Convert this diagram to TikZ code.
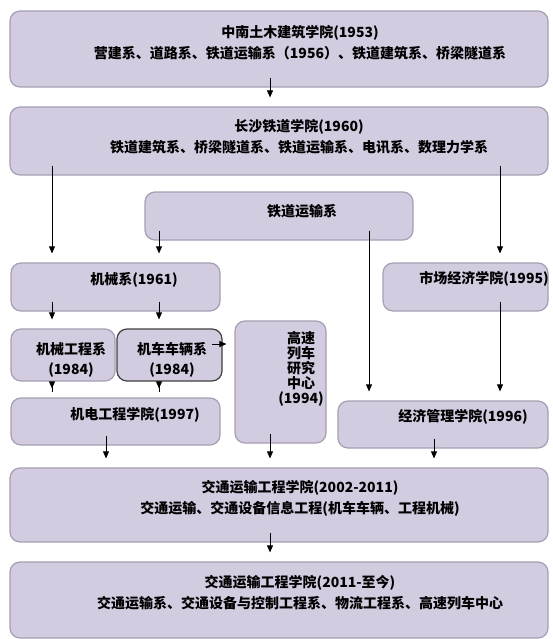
\documentclass[tikz,border=0pt]{standalone}
\usepackage{fontspec}
\setmainfont{Noto Sans CJK SC}
\usepackage{xcolor}
\usepackage{tikz}
\usetikzlibrary{arrows.meta}

\definecolor{boxfill}{RGB}{211,203,224}
\definecolor{boxline}{RGB}{165,159,178}

\tikzset{
  box/.style={draw=boxline, fill=boxfill, line width=1.2pt, rounded corners=10pt, inner sep=0pt},
  lbl/.style={font=\fontsize{14}{21}\selectfont\bfseries, align=center, inner sep=0pt},
  arr/.style={-{Triangle[length=7pt,width=6pt]}, line width=0.7pt, shorten <=-10pt, shorten >=9pt}
}

\begin{document}
\begin{tikzpicture}[x=1pt, y=1pt]
            \useasboundingbox (0,0) rectangle (553,-639);

            \node[box, minimum width=538, minimum height=76] (zn) at (279, -49) {};
            \node[box, minimum width=538, minimum height=68] (cs) at (279, -141) {};
            \node[box, minimum width=268, minimum height=48] (ty) at (279, -216) {};
            \node[box, minimum width=209, minimum height=48] (jx) at (115.5, -287) {};
            \node[box, minimum width=165, minimum height=48] (sc) at (465.5, -287) {};
            \node[box, minimum width=104, minimum height=52] (jg) at (63, -355) {};
            \node[box, draw=black!75, minimum width=105, minimum height=52] (jc) at (169.5, -355) {};
            \node[box, minimum width=91, minimum height=122] (gs) at (280.5, -382) {};
            \node[box, minimum width=209, minimum height=47] (jd) at (115.5, -421.5) {};
            \node[box, minimum width=210, minimum height=47] (jj) at (443, -424.5) {};
            \node[box, minimum width=538, minimum height=74] (jt) at (279, -505) {};
            \node[box, minimum width=538, minimum height=76] (jn) at (279, -600) {};

            \node[lbl] (zn-t) at (300, -42.5) {中南土木建筑学院(1953)\\营建系、道路系、铁道运输系（1956）、铁道建筑系、桥梁隧道系};
            \node[lbl] (cs-t) at (299, -136.5) {长沙铁道学院(1960)\\铁道建筑系、桥梁隧道系、铁道运输系、电讯系、数理力学系};
            \node[lbl] (ty-t) at (302, -211) {铁道运输系};
            \node[lbl] (jx-t) at (134, -280) {机械系(1961)};
            \node[lbl] (sc-t) at (484, -279) {市场经济学院(1995)};
            \node[lbl, font=\fontsize{14}{20}\selectfont\bfseries] (jg-t) at (71, -360) {机械工程系\\(1984)};
            \node[lbl, font=\fontsize{14}{20}\selectfont\bfseries] (jc-t) at (172, -360) {机车车辆系\\(1984)};
            \node[lbl, font=\fontsize{14}{15}\selectfont\bfseries] (gs-t) at (301, -369) {高速\\列车\\研究\\中心\\(1994)};
            \node[lbl] (jd-t) at (135, -415) {机电工程学院(1997)};
            \node[lbl] (jj-t) at (463, -417) {经济管理学院(1996)};
            \node[lbl] (jt-t) at (300, -498) {交通运输工程学院(2002-2011)\\交通运输、交通设备信息工程(机车车辆、工程机械)};
            \node[lbl] (jn-t) at (300, -592.5) {交通运输工程学院(2011-至今)\\交通运输系、交通设备与控制工程系、物流工程系、高速列车中心};

            \coordinate (xa) at (270, 0);
            \coordinate (xb) at (52, 0);
            \coordinate (xc) at (159, 0);
            \coordinate (xd) at (369, 0);
            \coordinate (xe) at (500, 0);
            \coordinate (xf) at (106, 0);
            \coordinate (xg) at (434, 0);
            \coordinate (jc-o) at ([yshift=11]jc.east);

            \draw[arr] (zn.south -| xa) -- (cs.north -| xa);
            \draw[arr] (cs.south -| xb) -- (jx.north -| xb);
            \draw[arr] (cs.south -| xe) -- (sc.north -| xe);
            \draw[arr] (ty.south -| xc) -- (jx.north -| xc);
            \draw[arr] (ty.south -| xd) -- (jj.north -| xd);
            \draw[arr] (jx.south -| xb) -- (jg.north -| xb);
            \draw[arr] (jx.south -| xc) -- (jc.north -| xc);
            \draw[arr, shorten <=0pt, shorten >=8pt] ([xshift=-11]jc-o) -- (jc-o -| gs.west);
            \draw[arr] (sc.south -| xe) -- (jj.north -| xe);
            \draw[arr] (jg.south -| xb) -- (jd.north -| xb);
            \draw[arr] (jc.south -| xc) -- (jd.north -| xc);
            \draw[arr] (jd.south -| xf) -- (jt.north -| xf);
            \draw[arr] (gs.south -| xa) -- (jt.north -| xa);
            \draw[arr] (jj.south -| xg) -- (jt.north -| xg);
            \draw[arr] (jt.south -| xa) -- (jn.north -| xa);
        \end{tikzpicture}
\end{document}
